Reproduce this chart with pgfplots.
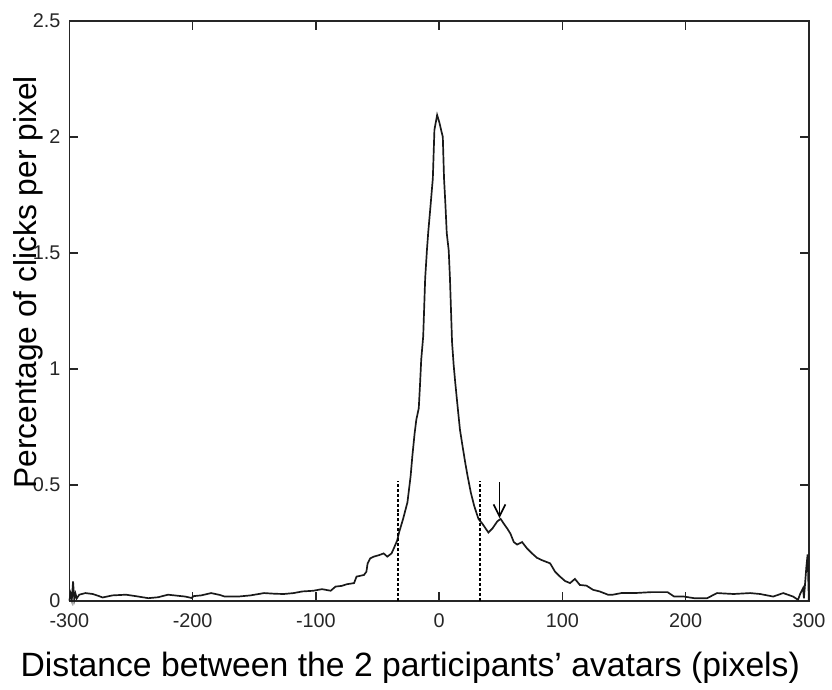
\documentclass[border=0pt]{standalone}
\usepackage{pgfplots}
\pgfplotsset{compat=1.18}
\usepackage{fontspec}
\setmainfont{Liberation Sans}
\usetikzlibrary{arrows.meta}
\begin{document}
\begin{tikzpicture}
\begin{axis}[
  scale only axis,
  width=373pt, height=292.5pt,
  xmin=-300, xmax=300, ymin=0, ymax=2.5,
  xtick={-300,-200,-100,0,100,200,300},
  ytick={0,0.5,1,1.5,2,2.5},
  yticklabels={0,0.5,1,1.5,2,2.5},
  tick align=inside,
  major tick length=4.5pt,
  axis line style={line width=0.8pt, black!85},
  every tick/.style={line width=0.8pt, black!85},
  /pgf/number format/assume math mode=true,
  ticklabel style={font=\fontsize{10}{12}\selectfont, text=black!85},
  xticklabel style={yshift=-3pt},
  yticklabel style={xshift=-1pt},
  xlabel={Distance between the 2 participants’ avatars (pixels)},
  ylabel={Percentage of clicks per pixel},
  xlabel style={at={(axis description cs:0.461,-0.115)}, anchor=center, font=\fontsize{17}{20}\selectfont},
  ylabel style={at={(axis description cs:-0.056,0.549)}, anchor=center, rotate=0, font=\fontsize{16}{19}\selectfont},
  clip=false,
]
\path (axis description cs:-0.0938,-0.1521) rectangle (axis description cs:1.0214,1.0359);
\addplot[black!90, line width=0.85pt] coordinates {
(-300,0.0)(-299,0.03)(-298,0.005)(-297,0.083)(-296,0.005)(-295,0.03)(-294,0.01)(-292,0.026)(-287,0.033)(-281,0.029)(-276,0.02)(-273,0.014)(-265,0.023)(-254,0.026)(-244,0.018)(-236,0.011)(-228,0.015)(-220,0.026)(-206,0.018)(-201,0.012)(-199,0.02)(-193,0.023)(-185,0.033)(-178,0.025)(-174,0.018)(-163,0.018)(-153,0.023)(-142,0.033)(-133,0.03)(-126,0.029)(-118,0.033)(-111,0.04)(-102,0.043)(-95,0.05)(-88,0.043)(-84,0.061)(-79,0.064)(-75,0.071)(-69,0.076)(-67,0.104)(-61,0.111)(-59,0.125)(-58,0.161)(-56,0.182)(-53,0.19)(-48.5,0.197)(-45,0.204)(-42,0.19)(-38.6,0.204)(-36.8,0.225)(-34,0.26)(-32.4,0.296)(-29.2,0.353)(-25.7,0.424)(-23.1,0.538)(-21.7,0.624)(-19.9,0.72)(-18.5,0.78)(-16.5,0.83)(-15.5,0.93)(-14.5,1.04)(-12.9,1.14)(-11.3,1.39)(-9.9,1.51)(-8.8,1.59)(-7,1.70)(-5.1,1.82)(-3.8,2.03)(-1.6,2.094)(0.3,2.06)(1.6,2.03)(3,2.0)(4,1.82)(5.1,1.71)(6.2,1.585)(7.8,1.51)(8.8,1.39)(10.5,1.115)(11.8,1.017)(13.1,0.94)(15,0.838)(16.9,0.738)(19,0.667)(21.2,0.595)(23.1,0.538)(25.7,0.467)(28.4,0.41)(31.9,0.353)(35.1,0.332)(40,0.294)(43.2,0.311)(47.2,0.342)(49.9,0.353)(52.5,0.332)(55.3,0.311)(57.9,0.289)(60.6,0.253)(63.3,0.242)(67.3,0.253)(71.4,0.225)(75.4,0.204)(79.4,0.185)(83.4,0.175)(90.1,0.161)(94.1,0.125)(98.1,0.104)(102.2,0.085)(106.2,0.076)(110.2,0.094)(114.2,0.068)(119.6,0.065)(124.9,0.047)(130.3,0.04)(137,0.026)(141,0.026)(147.8,0.033)(158.5,0.033)(171.9,0.037)(185.3,0.037)(190.7,0.018)(198.7,0.018)(206.8,0.011)(217.5,0.011)(225.5,0.033)(238.9,0.029)(252.4,0.033)(260.4,0.029)(271.1,0.018)(279.2,0.033)(287.2,0.018)(291.2,0.004)(293,0.03)(295.3,0.054)(296,0.01)(298,0.147)(299,0.2)(300,0.0)
};
\addplot[black, line width=0.75pt, dash pattern=on 1.5pt off 1pt] coordinates {(-33.2,0) (-33.2,0.517)};
\addplot[black, line width=0.75pt, dash pattern=on 1.5pt off 1pt] coordinates {(33,0) (33,0.517)};
\addplot[black, line width=0.85pt, -{Straight Barb[length=6pt, width=6pt]}] coordinates {(49,0.51) (49,0.356)};
\end{axis}
\end{tikzpicture}
\end{document}
